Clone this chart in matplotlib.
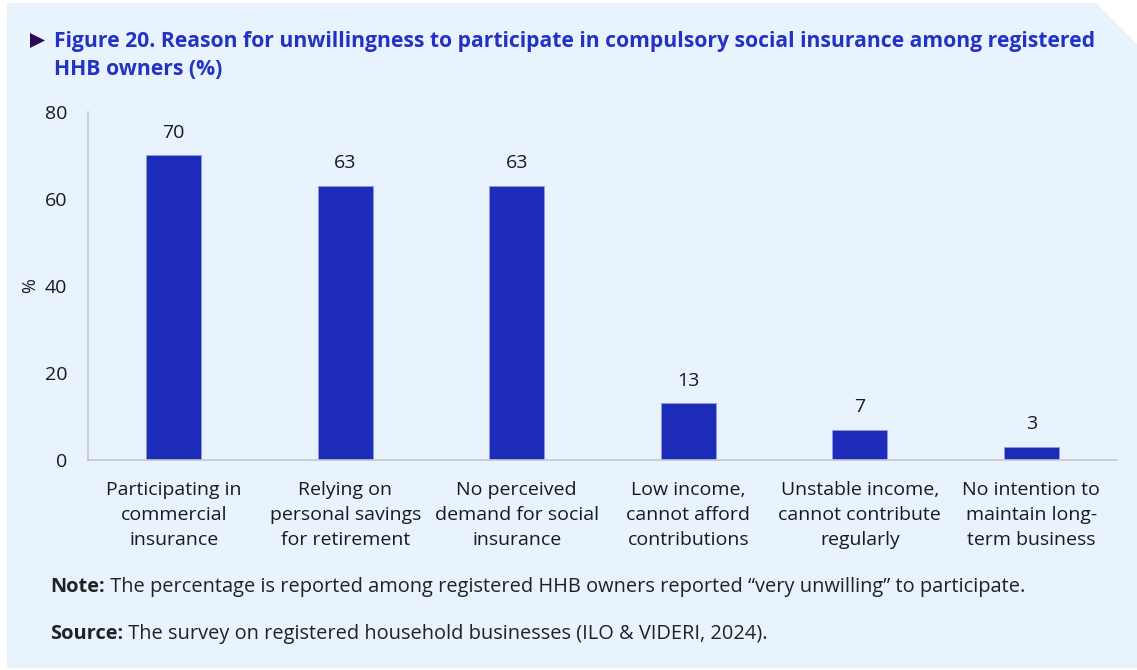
import matplotlib
matplotlib.use("Agg")
import matplotlib.pyplot as plt
from matplotlib.patches import Polygon

categories = [
    "Participating in\ncommercial\ninsurance",
    "Relying on\npersonal savings\nfor retirement",
    "No perceived\ndemand for social\ninsurance",
    "Low income,\ncannot afford\ncontributions",
    "Unstable income,\ncannot contribute\nregularly",
    "No intention to\nmaintain long-\nterm business",
]
values = [70, 63, 63, 13, 7, 3]
labels = ["70", "63", "63", "13", "7", "3"]
yticks = [0, 20, 40, 60, 80]

title = ("Figure 20. Reason for unwillingness to participate in compulsory social insurance among registered\n"
         "HHB owners (%)")
note_head = "Note:"
note_body = " The percentage is reported among registered HHB owners reported \u201cvery unwilling\u201d to participate."
source_head = "Source:"
source_body = " The survey on registered household businesses (ILO & VIDERI, 2024)."

plt.rcParams["font.family"] = ["Open Sans", "Noto Sans", "DejaVu Sans"]

W, H = 1137, 670
fig = plt.figure(figsize=(W / 100, H / 100), dpi=100)
fig.patch.set_facecolor("white")

panel_color = "#e8f3fd"
px = lambda x: x / W
py = lambda y: 1 - y / H
panel = Polygon([(px(7), py(3)), (px(1096), py(3)), (px(1137), py(44)),
                 (px(1137), py(668)), (px(7), py(668))],
                closed=True, transform=fig.transFigure, facecolor=panel_color,
                edgecolor="none", zorder=-10)
fig.patches.append(panel)

# title marker (triangle) and title
marker = Polygon([(px(30), py(33)), (px(30), py(48)), (px(45), py(40.5))],
                 closed=True, transform=fig.transFigure, facecolor="#2b0a55",
                 edgecolor="none", zorder=-5)
fig.patches.append(marker)
fig.text(px(54), py(31), title, fontsize=15.2, fontweight="bold", color="#2233c4",
         va="top", ha="left", linespacing=1.45)

ax = fig.add_axes([px(88), 1 - 460 / H, (1117 - 88) / W, (460 - 112) / H])
ax.set_zorder(5)
ax.set_facecolor("none")
x = list(range(len(values)))
ax.bar(x, values, width=0.32, color="#1c2bb8", edgecolor="#8f9ae6", linewidth=0.6, zorder=2)
for xi, v, lab in zip(x, values, labels):
    ax.annotate(lab, (xi, v), xytext=(0, 10), textcoords="offset points",
                ha="center", va="bottom", fontsize=14, color="#1a1a1a")
ax.set_xlim(-0.5, len(values) - 0.5)
ax.set_ylim(0, 80)
ax.set_yticks(yticks)
ax.set_xticks(x)
ax.set_xticklabels(categories, fontsize=14, color="#1a1a1a", linespacing=1.5)
ax.tick_params(axis="both", length=0, labelsize=14, colors="#1a1a1a")
ax.tick_params(axis="x", pad=15)
ax.tick_params(axis="y", pad=15)
ax.set_ylabel("%", fontsize=13, color="#1a1a1a", labelpad=4)
for s in ["top", "right"]:
    ax.spines[s].set_visible(False)
for s in ["left", "bottom"]:
    ax.spines[s].set_color("#c4c8cf")
    ax.spines[s].set_linewidth(1.2)

# note and source lines: bold head followed by regular text
fig.canvas.draw()
renderer = fig.canvas.get_renderer()
for head, body, y in [(note_head, note_body, 587), (source_head, source_body, 634)]:
    t = fig.text(px(50), py(y), head, fontsize=14.4, fontweight="bold", color="#222222",
                 va="center", ha="left")
    bb = t.get_window_extent(renderer=renderer)
    fig.text(bb.x1 / W, py(y), body, fontsize=14.4, color="#222222", va="center", ha="left")

fig.savefig("out.png", dpi=100, facecolor=fig.get_facecolor())
